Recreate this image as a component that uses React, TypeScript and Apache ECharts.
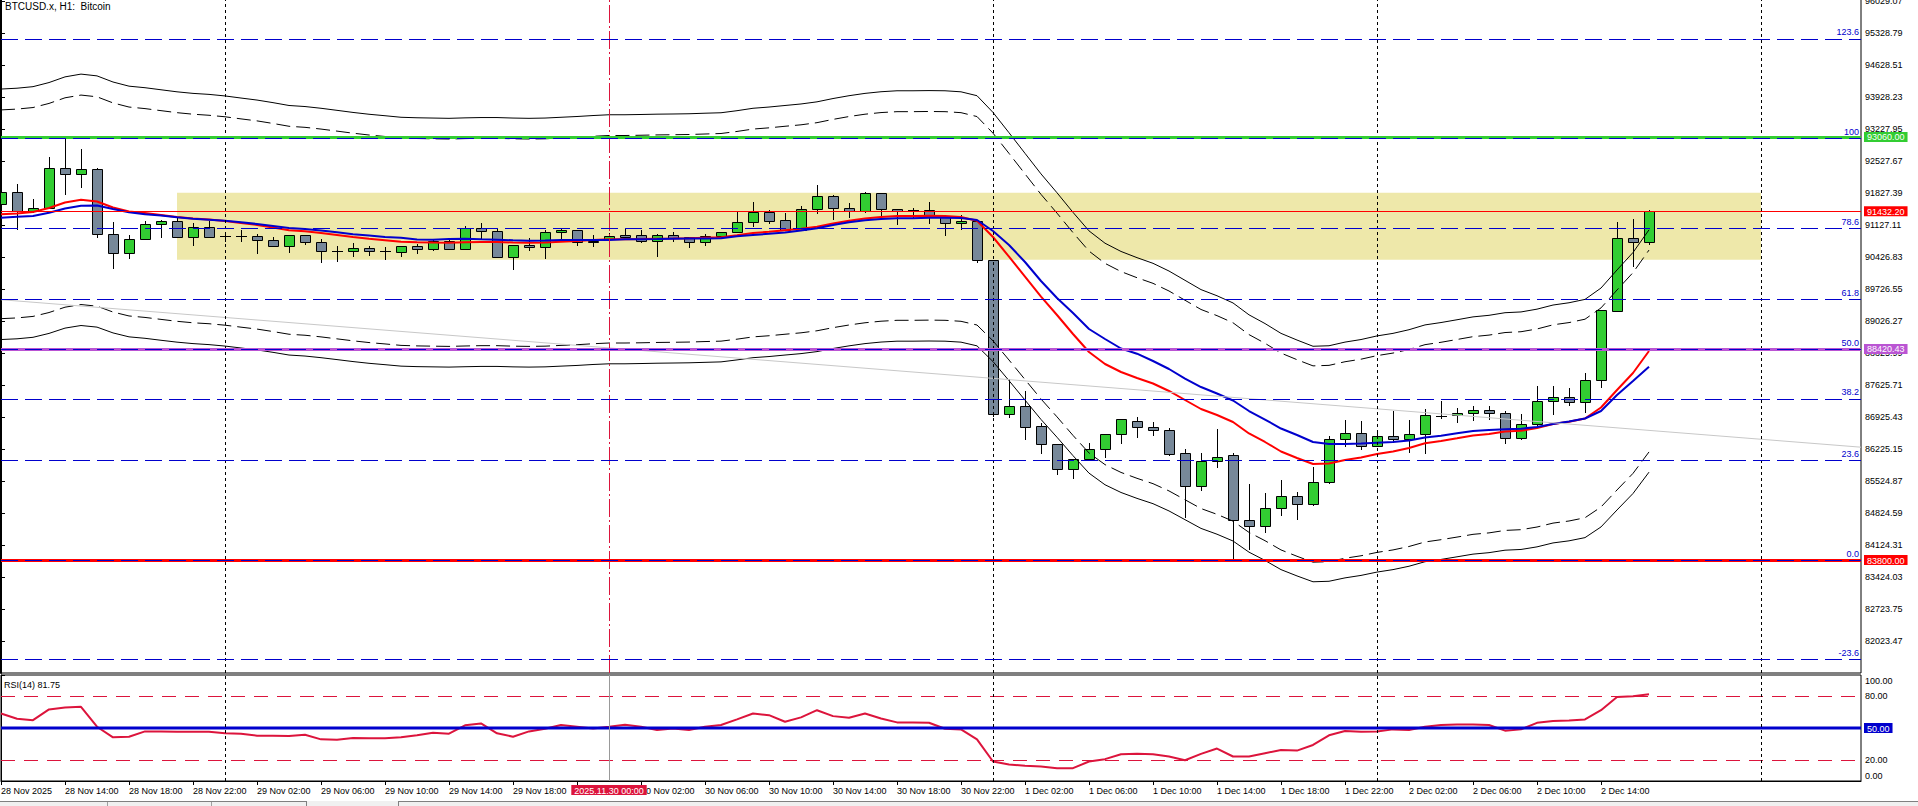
import React, { useEffect, useRef } from "react";
import * as echarts from "echarts";

const FONT = '"Liberation Sans", Arial, sans-serif';

const SYMBOL_TITLE = "BTCUSD.x, H1:  Bitcoin";
const RSI_TITLE = "RSI(14)";

// x-axis time labels (every 4 H1 bars)
const TIME_TICK_BARS = [0, 4, 8, 12, 16, 20, 24, 28, 32, 36, 40, 44, 48, 52, 56, 60, 64, 68, 72, 76, 80, 84, 88, 92, 96, 100];
const TIME_TICK_LABELS = [
  "28 Nov 2025", "28 Nov 14:00", "28 Nov 18:00", "28 Nov 22:00", "29 Nov 02:00", "29 Nov 06:00",
  "29 Nov 10:00", "29 Nov 14:00", "29 Nov 18:00", "29 Nov 22:00", "30 Nov 02:00", "30 Nov 06:00",
  "30 Nov 10:00", "30 Nov 14:00", "30 Nov 18:00", "30 Nov 22:00", "1 Dec 02:00", "1 Dec 06:00",
  "1 Dec 10:00", "1 Dec 14:00", "1 Dec 18:00", "1 Dec 22:00", "2 Dec 02:00", "2 Dec 06:00",
  "2 Dec 10:00", "2 Dec 14:00",
];
const DAY_SEPARATOR_BARS = [14, 62, 86, 110];
const MARKER_BAR = 38;
const MARKER_LABEL = "2025.11.30 00:00";

// price axis tick labels
const PRICE_TICKS = [
  82023.47, 82723.75, 83424.03, 84124.31, 84824.59, 85524.87, 86225.15, 86925.43, 87625.71, 88325.99,
  89026.27, 89726.55, 90426.83, 91127.11, 91827.39, 92527.67, 93227.95, 93928.23, 94628.51, 95328.79, 96029.07,
];
const PRICE_MIN = 81329.6;
const PRICE_MAX = 96079.4;
const X_MIN = 0;
const X_MAX = 116.25;

// OHLC of the 104 H1 candles (28 Nov 10:00 .. 2 Dec 17:00)
const OPEN = [
  91593, 91849, 91440, 91499, 92374, 92243, 92352, 90930, 90514, 90821,
  91149, 91221, 90878, 91096, 90893, 90893, 90893, 90805, 90667, 90908,
  90755, 90558, 90558, 90624, 90558, 90549, 90674, 90615, 90790, 90615,
  91061, 91002, 90427, 90696, 90646, 90974, 91024, 90790, 90821, 90908,
  90908, 90790, 90908, 90864, 90768, 90886, 90974, 91193, 91418, 91243,
  91024, 91477, 91762, 91499, 91433, 91827, 91477, 91455, 91455, 91315,
  91171, 91215, 90361, 86991, 87166, 86728, 86334, 85787, 86005, 86224,
  86552, 86837, 86706, 86640, 86136, 85414, 85974, 86093, 84671, 84540,
  84934, 85197, 85022, 85503, 86444, 86575, 86291, 86510, 86444, 86553,
  86960, 86969, 87013, 87078, 87013, 86466, 86772, 87276, 87363, 87254,
  87735, 89245, 90843, 90755,
];
const HIGH = [
  91899, 92031, 91703, 92622, 93009, 92797, 92387, 91193, 90915, 91221,
  91243, 91287, 91171, 91221, 90987, 91024, 90930, 90864, 90908, 90908,
  90827, 90674, 90733, 90674, 90652, 90674, 90718, 90821, 90805, 91112,
  91177, 91039, 90689, 90843, 91024, 91068, 91024, 90915, 90952, 91061,
  91024, 90937, 90980, 90864, 90930, 90974, 91440, 91637, 91462, 91396,
  91549, 92009, 91790, 91608, 91849, 91834, 91490, 91499, 91637, 91315,
  91352, 91221, 90361, 87764, 87501, 86807, 86334, 86005, 86362, 86552,
  86881, 86939, 86815, 86691, 86232, 86144, 86669, 86136, 85466, 85269,
  85553, 85291, 85845, 86516, 86866, 86844, 86575, 87070, 86866, 87107,
  87282, 87122, 87179, 87172, 87070, 86997, 87610, 87610, 87566, 87895,
  89274, 91199, 91265, 91462,
];
const LOW = [
  91418, 91046, 91418, 91499, 91805, 91972, 90878, 90186, 90418, 90821,
  90864, 90878, 90696, 90878, 90783, 90783, 90527, 90667, 90549, 90724,
  90317, 90352, 90462, 90484, 90383, 90455, 90527, 90587, 90615, 90615,
  90834, 90427, 90164, 90587, 90405, 90805, 90702, 90674, 90821, 90864,
  90755, 90455, 90790, 90659, 90696, 90886, 90974, 91118, 91184, 91024,
  91024, 91390, 91258, 91315, 91418, 91352, 91149, 91315, 91171, 90915,
  91039, 90331, 86954, 86938, 86457, 86144, 85684, 85590, 86005, 86049,
  86369, 86501, 86538, 86106, 84750, 85334, 85844, 83800, 84037, 84423,
  84781, 84707, 84998, 85481, 86290, 86238, 86291, 86378, 86166, 86144,
  86903, 86816, 86866, 86881, 86356, 86444, 86719, 86991, 87203, 87042,
  87589, 89245, 90243, 90727,
];
const CLOSE = [
  91849, 91440, 91499, 92374, 92243, 92359, 90930, 90514, 90821, 91149,
  91221, 90878, 91096, 90878, 90893, 90893, 90799, 90667, 90908, 90755,
  90558, 90558, 90624, 90558, 90558, 90674, 90615, 90790, 90615, 91061,
  90996, 90427, 90689, 90646, 90974, 91024, 90755, 90755, 90893, 90878,
  90790, 90908, 90843, 90768, 90886, 90974, 91199, 91418, 91228, 91024,
  91477, 91762, 91499, 91433, 91827, 91477, 91446, 91455, 91315, 91171,
  91215, 90361, 86991, 87166, 86719, 86334, 85787, 86005, 86224, 86552,
  86881, 86706, 86640, 86128, 85414, 85974, 86049, 84671, 84540, 84934,
  85197, 85022, 85503, 86444, 86575, 86291, 86510, 86444, 86553, 86969,
  86960, 87013, 87078, 87013, 86466, 86772, 87276, 87363, 87254, 87735,
  89274, 90843, 90755, 91432.2,
];

// moving averages
const MA_RED = [
  91368, 91385, 91418, 91506, 91626, 91685, 91648, 91517, 91429, 91396,
  91352, 91309, 91276, 91254, 91221, 91177, 91134, 91079, 91018, 90996,
  90959, 90915, 90871, 90832, 90801, 90768, 90757, 90751, 90746, 90755,
  90762, 90762, 90751, 90746, 90751, 90768, 90784, 90805, 90821, 90821,
  90827, 90834, 90838, 90843, 90854, 90864, 90908, 90959, 90985, 91018,
  91050, 91096, 91166, 91226, 91276, 91311, 91331, 91331, 91335, 91331,
  91309, 91226, 90871, 90440, 90002, 89565, 89164, 88748, 88354, 88092,
  87917, 87785, 87665, 87501, 87304, 87107, 86976, 86823, 86571, 86385,
  86177, 86035, 85903, 85914, 85991, 86046, 86122, 86177, 86254, 86356,
  86407, 86466, 86527, 86560, 86615, 86632, 86691, 86779, 86827, 86899,
  87140, 87523, 87895, 88376,
];
const MA_BLUE = [
  91293, 91313, 91331, 91401, 91495, 91556, 91560, 91484, 91412, 91368,
  91342, 91302, 91272, 91250, 91228, 91193, 91156, 91112, 91068, 91046,
  91013, 90974, 90930, 90904, 90871, 90856, 90816, 90812, 90827, 90832,
  90821, 90812, 90799, 90790, 90794, 90805, 90805, 90805, 90805, 90821,
  90823, 90827, 90832, 90836, 90840, 90845, 90886, 90915, 90941, 90970,
  91013, 91061, 91134, 91193, 91239, 91265, 91280, 91280, 91293, 91293,
  91287, 91243, 91002, 90696, 90324, 89908, 89536, 89208, 88858, 88639,
  88431, 88317, 88157, 87982, 87774, 87588, 87446, 87293, 87063, 86877,
  86680, 86538, 86385, 86341, 86341, 86352, 86370, 86385, 86418, 86483,
  86523, 86575, 86626, 86647, 86663, 86676, 86713, 86779, 86833, 86899,
  87063, 87413, 87720, 88033,
];

// envelopes
const ENV_UP_OUTER = [
  94109, 94127, 94161, 94251, 94375, 94436, 94397, 94263, 94172, 94138,
  94093, 94048, 94014, 93992, 93958, 93912, 93868, 93811, 93749, 93726,
  93688, 93643, 93597, 93557, 93525, 93491, 93480, 93474, 93468, 93478,
  93485, 93485, 93474, 93468, 93474, 93491, 93508, 93529, 93546, 93546,
  93552, 93559, 93563, 93568, 93580, 93590, 93635, 93688, 93715, 93749,
  93782, 93829, 93901, 93963, 94014, 94050, 94071, 94071, 94075, 94071,
  94048, 93963, 93597, 93153, 92702, 92252, 91839, 91410, 91005, 90735,
  90555, 90419, 90295, 90126, 89923, 89720, 89585, 89428, 89168, 88977,
  88762, 88616, 88480, 88491, 88571, 88627, 88706, 88762, 88842, 88947,
  88999, 89060, 89123, 89157, 89214, 89231, 89292, 89382, 89432, 89506,
  89754, 90149, 90532, 91027,
];
const ENV_UP_INNER = [
  93652, 93670, 93704, 93794, 93917, 93977, 93939, 93805, 93715, 93681,
  93636, 93592, 93558, 93535, 93502, 93456, 93412, 93356, 93294, 93271,
  93233, 93188, 93143, 93103, 93071, 93037, 93026, 93020, 93015, 93024,
  93031, 93031, 93020, 93015, 93020, 93037, 93054, 93075, 93092, 93092,
  93098, 93105, 93109, 93114, 93125, 93136, 93181, 93233, 93260, 93294,
  93326, 93373, 93445, 93507, 93558, 93594, 93614, 93614, 93618, 93614,
  93592, 93507, 93143, 92701, 92252, 91804, 91393, 90967, 90563, 90294,
  90115, 89980, 89857, 89689, 89487, 89285, 89150, 88994, 88735, 88545,
  88331, 88186, 88051, 88062, 88141, 88197, 88275, 88331, 88410, 88515,
  88567, 88628, 88690, 88724, 88780, 88798, 88858, 88949, 88998, 89072,
  89319, 89711, 90092, 90585,
];
const ENV_LO_INNER = [
  89084, 89100, 89133, 89218, 89335, 89393, 89357, 89229, 89143, 89111,
  89068, 89026, 88994, 88973, 88941, 88898, 88856, 88802, 88743, 88721,
  88685, 88642, 88599, 88561, 88531, 88499, 88488, 88482, 88477, 88486,
  88493, 88493, 88482, 88477, 88482, 88499, 88514, 88535, 88551, 88551,
  88556, 88563, 88567, 88572, 88583, 88592, 88635, 88685, 88710, 88743,
  88774, 88819, 88887, 88945, 88994, 89028, 89048, 89048, 89052, 89048,
  89026, 88945, 88599, 88179, 87752, 87326, 86935, 86529, 86145, 85890,
  85719, 85590, 85473, 85314, 85121, 84929, 84802, 84652, 84407, 84225,
  84023, 83884, 83755, 83766, 83841, 83895, 83969, 84023, 84098, 84197,
  84247, 84304, 84364, 84396, 84450, 84466, 84524, 84610, 84656, 84727,
  84962, 85335, 85698, 86167,
];
const ENV_LO_OUTER = [
  88627, 88643, 88676, 88761, 88877, 88934, 88899, 88772, 88686, 88654,
  88611, 88570, 88538, 88516, 88484, 88442, 88400, 88347, 88288, 88266,
  88230, 88188, 88145, 88107, 88077, 88045, 88034, 88029, 88024, 88032,
  88039, 88039, 88029, 88024, 88029, 88045, 88060, 88081, 88096, 88096,
  88102, 88109, 88113, 88118, 88128, 88138, 88181, 88230, 88255, 88288,
  88319, 88363, 88431, 88489, 88538, 88572, 88591, 88591, 88595, 88591,
  88570, 88489, 88145, 87727, 87302, 86878, 86489, 86086, 85703, 85449,
  85280, 85151, 85035, 84876, 84685, 84494, 84367, 84218, 83974, 83793,
  83592, 83454, 83326, 83337, 83411, 83465, 83538, 83592, 83666, 83765,
  83815, 83872, 83931, 83963, 84017, 84033, 84090, 84176, 84222, 84292,
  84526, 84897, 85258, 85725,
];

// RSI(14)
const RSI = [
  63.7, 58.7, 57.4, 67.5, 69.3, 70.0, 51.2, 41.2, 41.8, 46.8,
  46.8, 46.5, 46.5, 46.5, 45.0, 44.6, 42.8, 42.8, 42.5, 43.7,
  39.3, 39.0, 40.6, 40.3, 40.3, 41.2, 43.1, 45.6, 44.6, 52.5,
  54.3, 45.0, 41.8, 46.8, 49.3, 52.8, 51.2, 49.6, 51.2, 53.1,
  51.2, 48.1, 49.6, 48.1, 51.2, 52.8, 58.1, 63.7, 62.1, 55.9,
  60.0, 66.8, 61.2, 59.6, 63.7, 59.0, 55.3, 55.3, 54.9, 49.3,
  48.7, 39.3, 18.4, 15.6, 14.3, 13.7, 12.1, 12.1, 18.4, 20.6,
  25.3, 25.6, 25.3, 23.1, 19.6, 25.6, 30.6, 23.1, 23.1, 26.2,
  29.3, 28.7, 34.0, 43.1, 47.1, 46.5, 46.8, 48.7, 48.1, 51.2,
  52.8, 53.4, 53.4, 52.8, 47.5, 48.7, 54.9, 56.5, 57.1, 58.1,
  66.8, 79.3, 79.95, 81.75,
];
const RSI_LEVEL_LOW = 20;
const RSI_LEVEL_MID = 50;
const RSI_LEVEL_HIGH = 80;

// chart objects
const ZONE = { fromBar: 11, toBar: 110, top: 91840, bottom: 90374 };
const TREND = [[0, 89499], [116.25, 86271]];
const FIB_LOW = 83800;
const FIB_HIGH = 93030;
const FIB_LEVELS = [-23.6, 0, 23.6, 38.2, 50, 61.8, 78.6, 100, 123.6];
const LEVEL_PRICES = [93060, 91432.2, 88420.43, 83800];
const LEVEL_COLORS = ["#32CD32", "#FF0000", "#BA55D3", "#FF0000"];
const LEVEL_WIDTHS = [3, 1, 3, 3];

const UP = "#32CD32";
const DOWN = "#778899";
const FIB_BLUE = "#0000CD";

export default function App() {
  const ref = useRef<HTMLDivElement>(null);

  useEffect(() => {
    const chart = echarts.init(ref.current as HTMLDivElement, null, { renderer: "svg" });

    const candleData = OPEN.map((o, i) => [i, o, CLOSE[i], LOW[i], HIGH[i]]);
    const toLine = (arr: number[]) => arr.map((v, i) => [i, v]);

    const rich: any = {};
    LEVEL_PRICES.forEach((p, k) => {
      rich["l" + k] = {
        backgroundColor: LEVEL_COLORS[k],
        color: "#fff",
        padding: [1, 3, 0, 3],
        lineHeight: 10,
        fontSize: 9,
        fontFamily: FONT,
      };
    });

    const fibLines = FIB_LEVELS.map((lvl) => ({
      yAxis: FIB_LOW + ((FIB_HIGH - FIB_LOW) * lvl) / 100,
      lineStyle: { color: FIB_BLUE, width: 1, type: [17, 7] },
      label: {
        show: true,
        position: "insideEndTop",
        formatter: lvl === 100 ? "100" : lvl.toFixed(1),
        color: FIB_BLUE,
        fontSize: 9,
        fontFamily: FONT,
        distance: 2,
      },
    }));

    const objectLines = [
      ...DAY_SEPARATOR_BARS.map((b) => ({ xAxis: b, lineStyle: { color: "#000", width: 1, type: [3, 3] } })),
      { xAxis: MARKER_BAR, lineStyle: { color: "#DC143C", width: 1, type: [18, 3, 2, 3] } },
      ...LEVEL_PRICES.map((p, k) => ({
        yAxis: p,
        lineStyle: { color: LEVEL_COLORS[k], width: LEVEL_WIDTHS[k], type: "solid" },
      })),
      ...fibLines,
    ];

    const envLine = (name: string, arr: number[], dashed: boolean) => ({
      name,
      type: "line",
      xAxisIndex: 0,
      yAxisIndex: 0,
      data: toLine(arr),
      showSymbol: false,
      silent: true,
      clip: true,
      lineStyle: { color: "#000", width: 1, type: dashed ? [14, 6] : "solid" },
    });

    const option: any = {
      animation: false,
      backgroundColor: "#fff",
      textStyle: { fontFamily: FONT, fontSize: 9 },
      grid: [
        { left: 1, top: -1, width: 1860, height: 674, show: true, borderColor: "#000", borderWidth: 1, backgroundColor: "transparent", outerBoundsMode: "none" },
        { left: 1, top: 675, width: 1860, height: 106, show: true, borderColor: "#000", borderWidth: 1, backgroundColor: "transparent", outerBoundsMode: "none" },
      ],
      xAxis: [
        { gridIndex: 0, type: "value", min: X_MIN, max: X_MAX, show: false },
        {
          gridIndex: 1,
          type: "value",
          min: X_MIN,
          max: X_MAX,
          position: "bottom",
          axisLine: { show: true, lineStyle: { color: "#000", width: 1 } },
          axisTick: { show: true, customValues: TIME_TICK_BARS, length: 4, lineStyle: { color: "#000" } },
          axisLabel: {
            customValues: TIME_TICK_BARS,
            formatter: (v: number) => TIME_TICK_LABELS[TIME_TICK_BARS.indexOf(v)] || "",
            align: "left",
            margin: 5,
            color: "#000",
            fontSize: 9,
            fontFamily: FONT,
          },
          splitLine: { show: false },
        },
        {
          gridIndex: 1,
          type: "value",
          min: X_MIN,
          max: X_MAX,
          position: "bottom",
          z: 10,
          axisLine: { show: false },
          axisTick: { show: false },
          axisLabel: {
            customValues: [MARKER_BAR],
            formatter: () => "{r|" + MARKER_LABEL + "}",
            margin: 4,
            rich: {
              r: { backgroundColor: "#DC143C", color: "#fff", padding: [1, 3, 0, 3], lineHeight: 10, fontSize: 9, fontFamily: FONT },
            },
          },
          splitLine: { show: false },
        },
      ],
      yAxis: [
        {
          gridIndex: 0,
          type: "value",
          position: "right",
          min: PRICE_MIN,
          max: PRICE_MAX,
          axisLine: { show: true, lineStyle: { color: "#000", width: 2 } },
          axisTick: { show: true, customValues: PRICE_TICKS, length: 4, lineStyle: { color: "#000" } },
          axisLabel: {
            customValues: PRICE_TICKS,
            formatter: (v: number) => v.toFixed(2),
            margin: 4,
            color: "#000",
            fontSize: 9,
            fontFamily: FONT,
          },
          splitLine: { show: false },
        },
        {
          gridIndex: 0,
          type: "value",
          position: "right",
          min: PRICE_MIN,
          max: PRICE_MAX,
          z: 10,
          axisLine: { show: false },
          axisTick: { show: false },
          axisLabel: {
            customValues: LEVEL_PRICES,
            formatter: (v: number) => {
              const k = LEVEL_PRICES.findIndex((p) => Math.abs(p - v) < 1e-6);
              return "{l" + k + "|" + v.toFixed(2) + "}";
            },
            margin: 3,
            rich,
          },
          splitLine: { show: false },
        },
        {
          gridIndex: 1,
          type: "value",
          position: "right",
          min: 0,
          max: 100,
          axisLine: { show: true, lineStyle: { color: "#000", width: 1 } },
          axisTick: { show: true, customValues: [0, 20, 80, 100], length: 4, lineStyle: { color: "#000" } },
          axisLabel: {
            customValues: [5, 20, 80, 94.6],
            formatter: (v: number) => (v < 10 ? "0.00" : v > 90 ? "100.00" : v.toFixed(2)),
            margin: 4,
            color: "#000",
            fontSize: 9,
            fontFamily: FONT,
          },
          splitLine: { show: false },
        },
        {
          gridIndex: 1,
          type: "value",
          position: "right",
          min: 0,
          max: 100,
          z: 10,
          axisLine: { show: false },
          axisTick: { show: false },
          axisLabel: {
            customValues: [RSI_LEVEL_MID],
            formatter: (v: number) => "{b|" + v.toFixed(2) + "}",
            margin: 3,
            rich: {
              b: { backgroundColor: FIB_BLUE, color: "#fff", padding: [1, 3, 0, 3], lineHeight: 10, fontSize: 9, fontFamily: FONT },
            },
          },
          splitLine: { show: false },
        },
      ],
      series: [
        {
          name: "zone",
          type: "line",
          xAxisIndex: 0,
          yAxisIndex: 0,
          data: [[ZONE.fromBar, ZONE.top], [ZONE.toBar, ZONE.top]],
          showSymbol: false,
          silent: true,
          lineStyle: { opacity: 0 },
          markArea: {
            silent: true,
            itemStyle: { color: "#EEE8AA", opacity: 1 },
            data: [[{ xAxis: ZONE.fromBar, yAxis: ZONE.top }, { xAxis: ZONE.toBar, yAxis: ZONE.bottom }]],
          },
        },
        {
          name: "candles",
          type: "custom",
          xAxisIndex: 0,
          yAxisIndex: 0,
          clip: true,
          silent: true,
          data: candleData,
          encode: { x: 0, y: [1, 2, 3, 4] },
          renderItem: (params: any, api: any) => {
            const i = api.value(0);
            const o = api.value(1);
            const c = api.value(2);
            const l = api.value(3);
            const h = api.value(4);
            const pO = api.coord([i, o]);
            const cx = Math.round(pO[0]);
            const yO = Math.round(pO[1]);
            const yC = Math.round(api.coord([i, c])[1]);
            const yL = Math.round(api.coord([i, l])[1]);
            const yH = Math.round(api.coord([i, h])[1]);
            const children: any[] = [
              { type: "line", shape: { x1: cx + 0.5, y1: yH, x2: cx + 0.5, y2: yL + 1 }, style: { stroke: "#000", lineWidth: 1 } },
            ];
            if (o === c) {
              children.push({ type: "line", shape: { x1: cx - 5, y1: yO + 0.5, x2: cx + 6, y2: yO + 0.5 }, style: { stroke: "#000", lineWidth: 1 } });
            } else {
              const top = Math.min(yO, yC);
              const bot = Math.max(yO, yC);
              children.push({
                type: "rect",
                shape: { x: cx - 4.5, y: top + 0.5, width: 10, height: Math.max(bot - top, 1) },
                style: { fill: c > o ? UP : DOWN, stroke: "#000", lineWidth: 1 },
              });
            }
            return { type: "group", children };
          },
        },
        envLine("env-up-outer", ENV_UP_OUTER, false),
        envLine("env-up-inner", ENV_UP_INNER, true),
        envLine("env-lo-inner", ENV_LO_INNER, true),
        envLine("env-lo-outer", ENV_LO_OUTER, false),
        {
          name: "ma-red",
          type: "line",
          xAxisIndex: 0,
          yAxisIndex: 0,
          data: toLine(MA_RED),
          showSymbol: false,
          silent: true,
          lineStyle: { color: "#FF0000", width: 2 },
        },
        {
          name: "ma-blue",
          type: "line",
          xAxisIndex: 0,
          yAxisIndex: 0,
          data: toLine(MA_BLUE),
          showSymbol: false,
          silent: true,
          lineStyle: { color: "#0000CD", width: 2 },
        },
        {
          name: "trend",
          type: "line",
          xAxisIndex: 0,
          yAxisIndex: 0,
          data: TREND,
          showSymbol: false,
          silent: true,
          clip: true,
          lineStyle: { color: "#C8C8C8", width: 1 },
          markLine: {
            silent: true,
            symbol: ["none", "none"],
            label: { show: false },
            data: objectLines,
          },
        },
        {
          name: "rsi",
          type: "line",
          xAxisIndex: 1,
          yAxisIndex: 2,
          data: toLine(RSI),
          showSymbol: false,
          silent: true,
          lineStyle: { color: "#DC143C", width: 2 },
        },
        {
          name: "rsi-levels",
          type: "line",
          xAxisIndex: 1,
          yAxisIndex: 2,
          data: [[X_MIN, RSI_LEVEL_MID], [X_MAX, RSI_LEVEL_MID]],
          showSymbol: false,
          silent: true,
          lineStyle: { color: FIB_BLUE, width: 3 },
          markLine: {
            silent: true,
            symbol: ["none", "none"],
            label: { show: false },
            data: [
              { yAxis: RSI_LEVEL_HIGH, lineStyle: { color: "#DC143C", width: 1, type: [14, 9] } },
              { yAxis: RSI_LEVEL_LOW, lineStyle: { color: "#DC143C", width: 1, type: [14, 9] } },
              ...DAY_SEPARATOR_BARS.map((b) => ({ xAxis: b, lineStyle: { color: "#000", width: 1, type: [3, 3] } })),
              { xAxis: MARKER_BAR, lineStyle: { color: "#999", width: 1, type: "solid" } },
            ],
          },
        },
      ],
      graphic: [
        {
          type: "text",
          left: 5,
          top: 1,
          silent: true,
          style: { text: SYMBOL_TITLE, fill: "#000", fontSize: 10, fontFamily: FONT },
        },
        {
          type: "text",
          left: 4,
          top: 680,
          silent: true,
          style: { text: RSI_TITLE + " " + RSI[RSI.length - 1].toFixed(2), fill: "#000", fontSize: 9, fontFamily: FONT },
        },
        { type: "rect", silent: true, shape: { x: 0, y: 801, width: 1918, height: 5 }, style: { fill: "#F0F0F0" } },
        { type: "line", silent: true, shape: { x1: 0, y1: 801.5, x2: 306, y2: 801.5 }, style: { stroke: "#808080", lineWidth: 1 } },
        { type: "line", silent: true, shape: { x1: 398, y1: 801.5, x2: 1918, y2: 801.5 }, style: { stroke: "#808080", lineWidth: 1 } },
        { type: "line", silent: true, shape: { x1: 107.5, y1: 802, x2: 107.5, y2: 806 }, style: { stroke: "#A0A0A0", lineWidth: 1 } },
        { type: "line", silent: true, shape: { x1: 211.5, y1: 802, x2: 211.5, y2: 806 }, style: { stroke: "#A0A0A0", lineWidth: 1 } },
        { type: "line", silent: true, shape: { x1: 306.5, y1: 801, x2: 306.5, y2: 806 }, style: { stroke: "#808080", lineWidth: 1 } },
        { type: "line", silent: true, shape: { x1: 398.5, y1: 801, x2: 398.5, y2: 806 }, style: { stroke: "#808080", lineWidth: 1 } },
      ],
    };

    chart.setOption(option);
    return () => chart.dispose();
  }, []);

  return (
    <div
      ref={ref}
      style={{ position: "fixed", left: 0, top: 0, width: 1918, height: 806, background: "#fff" }}
    />
  );
}
